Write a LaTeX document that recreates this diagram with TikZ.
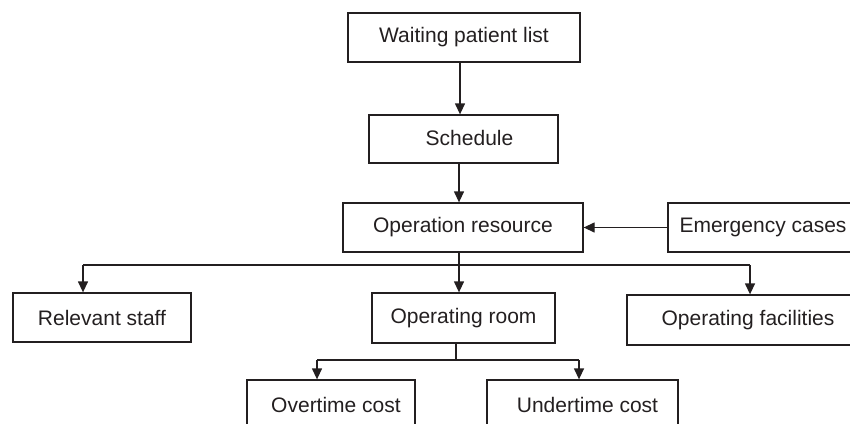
\documentclass[tikz,border=0pt]{standalone}
\usepackage{fontspec}
\setmainfont{Liberation Sans}
\usetikzlibrary{arrows.meta}
\definecolor{ink}{HTML}{231F20}
\begin{document}
\begin{tikzpicture}[x=1pt,y=-1pt,
 box/.style={draw=ink, line width=1.3pt, minimum height=49pt, inner sep=0pt, text=ink, font=\fontsize{21}{25}\selectfont},
 arr/.style={draw=ink, line width=1.3pt, -{Triangle[length=11pt,width=10pt]}},
 ln/.style={draw=ink, line width=1.3pt}]
\useasboundingbox (0,0) rectangle (850,423);
\clip (0,0) rectangle (850,423);
\node[box, minimum width=232pt] (wait) at (464,37.5) {\raisebox{-2pt}{Waiting patient list}};
\node[box, minimum width=189pt, minimum height=48pt] (sched) at (463.5,139) {\raisebox{2pt}{\hspace*{12pt}Schedule}};
\node[box, minimum width=240pt] (opres) at (463,227.5) {Operation resource};
\node[box, minimum width=190pt] (emerg) at (763,227.5) {Emergency cases};
\node[box, minimum width=178pt] (staff) at (102,317.5) {Relevant staff};
\node[box, minimum width=183pt, minimum height=50pt] (oproom) at (463.5,318) {Operating room};
\node[box, minimum width=242pt, minimum height=50pt] (facil) at (748,320) {Operating facilities};
\node[box, minimum width=168pt, minimum height=50pt] (over) at (331,405) {\hspace*{10pt}Overtime cost};
\node[box, minimum width=191pt, minimum height=50pt] (under) at (582.5,405) {\hspace*{10pt}Undertime cost};
\coordinate (c) at (460,0);
\coordinate (j1) at (459,265);
\coordinate (s1) at (83,265);
\coordinate (f1) at (750,265);
\coordinate (j2) at (456,360);
\coordinate (o2) at (317,360);
\coordinate (u2) at (579,360);
\draw[arr] (wait.south -| c) -- (sched.north -| c);
\draw[arr] (sched.south -| j1) -- (opres.north -| j1);
\draw[arr] (emerg.west) -- (opres.east);
\draw[ln] (opres.south -| j1) -- (j1);
\draw[ln] (s1) -- (f1);
\draw[arr] (s1) -- (staff.north -| s1);
\draw[arr] (j1) -- (oproom.north -| j1);
\draw[arr] (f1) -- (facil.north -| f1);
\draw[ln] (oproom.south -| j2) -- (j2);
\draw[ln] (o2) -- (u2);
\draw[arr] (o2) -- (over.north -| o2);
\draw[arr] (u2) -- (under.north -| u2);
\end{tikzpicture}
\end{document}
